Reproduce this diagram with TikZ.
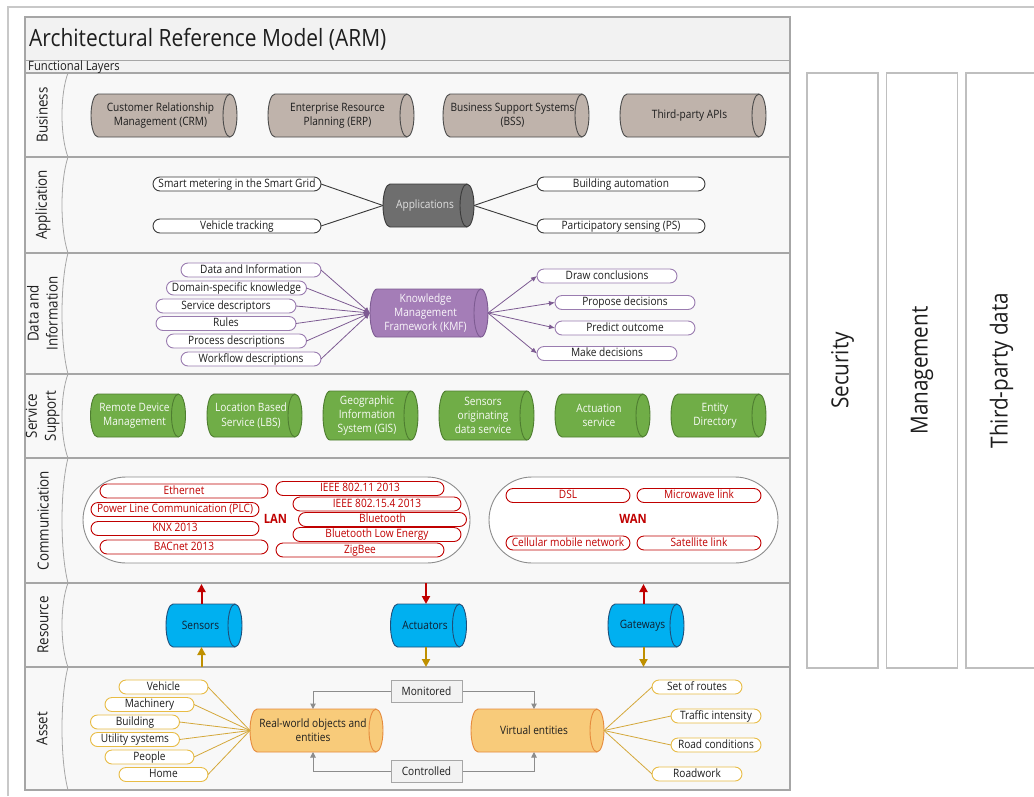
\documentclass[tikz,border=0pt]{standalone}
\usepackage{fontspec}
\setmainfont{Open Sans}[FakeStretch=0.88]
\usetikzlibrary{arrows.meta,calc}

\definecolor{txt}{HTML}{1E1E1E}
\definecolor{framegray}{HTML}{C8C8C8}
\definecolor{laygrid}{HTML}{A6A6A6}
\definecolor{armbg}{HTML}{F8F8F8}
\definecolor{titlebg}{HTML}{F2F2F2}
\definecolor{bizfill}{HTML}{BFB3AB}
\definecolor{bizline}{HTML}{4A4A4A}
\definecolor{appfill}{HTML}{6E6E6E}
\definecolor{appline}{HTML}{3A3A3A}
\definecolor{kmffill}{HTML}{A47DB7}
\definecolor{kmfline}{HTML}{7D5B92}
\definecolor{kmfpill}{HTML}{9A7CB0}
\definecolor{greenfill}{HTML}{70AD47}
\definecolor{greenline}{HTML}{4E7D30}
\definecolor{netred}{HTML}{C00000}
\definecolor{capgray}{HTML}{8C8C8C}
\definecolor{bluefill}{HTML}{00B0F0}
\definecolor{blueline}{HTML}{1F4E79}
\definecolor{bluetext}{HTML}{102030}
\definecolor{goldarrow}{HTML}{BF9000}
\definecolor{orfill}{HTML}{F8CB7A}
\definecolor{orline}{HTML}{E58A3C}
\definecolor{goldpill}{HTML}{E8BC45}
\definecolor{goldlink}{HTML}{D4A83A}
\definecolor{linkgray}{HTML}{8C8C8C}
\definecolor{boxfill}{HTML}{F2F2F2}
\definecolor{sideline}{HTML}{BFBFBF}

\newcommand\fs[2]{\fontsize{#1}{#2}\selectfont}

% horizontal cylinder: name, centre x, centre y (downwards), width, height, style, text
\newcommand\cyl[7]{%
  \node[cylbox, minimum width=#4pt, minimum height=#5pt] (#1) at (#2,-#3) {};
  \path[#6] ([xshift=7pt]#1.north west) -- ([xshift=-7pt]#1.north east)
    arc[start angle=90, end angle=-90, x radius=7pt, y radius=#5pt/2]
    -- ([xshift=7pt]#1.south west)
    arc[start angle=270, end angle=90, x radius=7pt, y radius=#5pt/2] -- cycle;
  \draw[#6, fill=none] ([xshift=-7pt]#1.north east)
    arc[start angle=90, end angle=270, x radius=7pt, y radius=#5pt/2];
  \node[#6-t] (#1-t) at ([xshift=-3.5pt]#1.center) {#7};
}

\begin{document}
\begin{tikzpicture}[x=1pt,y=1pt,
  cylbox/.style={rectangle, draw=none, fill=none, inner sep=0pt, outer sep=0pt},
  cyltext/.style={font=\fs{11.5}{13.8}, align=center, inner sep=0pt},
  cyl-biz/.style={fill=bizfill, draw=bizline, line width=0.9pt},
  cyl-biz-t/.style={cyltext, text=txt},
  cyl-app/.style={fill=appfill, draw=appline, line width=0.9pt},
  cyl-app-t/.style={cyltext, text=black!12},
  cyl-kmf/.style={fill=kmffill, draw=kmfline, line width=0.9pt},
  cyl-kmf-t/.style={cyltext, font=\fs{11.5}{14.3}, text=white!94!kmffill},
  cyl-grn/.style={fill=greenfill, draw=greenline, line width=0.9pt},
  cyl-grn-t/.style={cyltext, font=\fs{11.5}{14.2}, text=white!95!greenfill},
  cyl-blue/.style={fill=bluefill, draw=blueline, line width=0.9pt},
  cyl-blue-t/.style={cyltext, text=bluetext},
  cyl-or/.style={fill=orfill, draw=orline, line width=0.9pt},
  cyl-or-t/.style={cyltext, text=txt},
  pill/.style={rectangle, rounded corners=7pt, minimum height=14pt, inner sep=0pt,
    outer sep=0pt, fill=white, line width=0.9pt, font=\fs{11.5}{13},
    text height=8.3pt, text depth=2.3pt},
  pill-app/.style={pill, draw=appline, text=txt},
  pill-kmf/.style={pill, draw=kmfpill, text=txt},
  pill-net/.style={pill, draw=netred, text=netred},
  pill-gold/.style={pill, draw=goldpill, text=txt},
  capsule/.style={rectangle, draw=capgray, fill=white, rounded corners=43pt,
    line width=0.9pt, minimum height=86pt, inner sep=0pt},
  netlbl/.style={font=\fs{12.8}{14}\bfseries, text=netred, inner sep=0pt},
  laylbl/.style={rotate=90, font=\fs{15.2}{19}, align=center, text=txt, inner sep=0pt},
  sidebox/.style={rectangle, rotate=90, draw=sideline, fill=white, line width=1.3pt,
    minimum width=595pt, minimum height=71pt, inner sep=0pt, font=\fs{23.5}{26}, text=txt},
  monbox/.style={rectangle, draw=laygrid, fill=boxfill, line width=1pt, minimum width=71pt,
    minimum height=22pt, inner sep=0pt, font=\fs{11.5}{13}, text=txt},
  applink/.style={draw=appline, line width=0.9pt},
  kmflink/.style={draw=kmfline, line width=0.8pt, -{Latex[length=6pt,width=5pt]}},
  goldline/.style={draw=goldlink, line width=0.8pt},
  graylink/.style={draw=linkgray, line width=1pt, -{Triangle[length=5.5pt,width=5.5pt]}},
  redarr/.style={draw=netred, line width=2pt, -{Triangle[length=8pt,width=8pt]}},
  goldarr/.style={draw=goldarrow, line width=2pt, -{Triangle[length=8pt,width=8pt]}}
]
\useasboundingbox (0,0) rectangle (1034,-796);

% outer frame
\draw[framegray, line width=2pt] (8,-796) -- (8,-7) -- (1034,-7);

% model box, title band and layer rows
\fill[armbg] (25,-17) rectangle (790,-790);
\fill[titlebg] (25,-17) rectangle (790,-73);
\draw[laygrid, line width=1pt] (25,-60) -- (790,-60);
\foreach \y in {73,157,253,374,458,583,667}
  \draw[laygrid, line width=1.3pt] (25,-\y) -- (790,-\y);
\draw[laygrid, line width=1.3pt] (25,-17) rectangle (790,-790);
\foreach \a/\b in {73/157,157/253,253/374,374/458,458/583,583/667,667/790}
  \draw[laygrid, line width=0.8pt] (68,-\a)
    .. controls (60,{-(\a+0.25*(\b-\a))}) and (60,{-(\b-0.25*(\b-\a))}) .. (68,-\b);

\node[anchor=base west, font=\fs{23.8}{28}, text=txt, inner sep=0pt] (title) at (29,-46)
  {Architectural Reference Model (ARM)};
\node[anchor=base west, font=\fs{12.8}{14}, text=txt, inner sep=0pt] (fl) at (28,-70.5)
  {Functional Layers};

% layer names
\node[laylbl] (l-biz) at (42,-115) {Business};
\node[laylbl] (l-app) at (43,-205) {Application};
\node[laylbl] (l-dat) at (42.5,-313.5) {Data and\\Information};
\node[laylbl] (l-svc) at (42.5,-416) {Service\\Support};
\node[laylbl] (l-com) at (43,-520.5) {Communication};
\node[laylbl] (l-res) at (43,-625) {Resource};
\node[laylbl] (l-ast) at (42,-728.5) {Asset};

% cross-cutting columns
\node[sidebox] (sec) at (842.5,-370.5) {Security};
\node[sidebox] (mgmt) at (922,-370.5) {Management};
\node[sidebox] (tpd) at (1001.5,-370.5) {Third-party data};

% Business
\cyl{crm}{164}{115.5}{146}{43}{cyl-biz}{Customer Relationship\\Management (CRM)}
\cyl{erp}{341}{115.5}{146}{43}{cyl-biz}{Enterprise Resource\\Planning (ERP)}
\cyl{bss}{516}{115.5}{146}{43}{cyl-biz}{Business Support Systems\\(BSS)}
\cyl{tpa}{693}{115.5}{146}{43}{cyl-biz}{Third-party APIs}

% Application
\cyl{app}{428.5}{205.5}{91}{43}{cyl-app}{Applications}
\node[pill-app, minimum width=168pt] (sm) at (237,-184) {Smart metering in the Smart Grid};
\node[pill-app, minimum width=168pt] (vt) at (237,-226) {Vehicle tracking};
\node[pill-app, minimum width=168pt] (ba) at (621,-184) {Building automation};
\node[pill-app, minimum width=168pt] (ps) at (621,-226) {Participatory sensing (PS)};
\foreach \n in {sm,vt} \draw[applink] (\n.east) -- (app.west);
\foreach \n in {ba,ps} \draw[applink] (app.east) -- (\n.west);

% Data and Information
\cyl{kmf}{429}{313}{118}{48}{cyl-kmf}{Knowledge\\Management\\Framework (KMF)}
\node[pill-kmf, minimum width=140pt] (di) at (251,-270) {Data and Information};
\node[pill-kmf, minimum width=140pt] (dk) at (236.5,-288) {Domain-specific knowledge};
\node[pill-kmf, minimum width=140pt] (sd) at (226,-306) {Service descriptors};
\node[pill-kmf, minimum width=140pt] (ru) at (226,-323.5) {Rules};
\node[pill-kmf, minimum width=140pt] (pd) at (236.5,-341) {Process descriptions};
\node[pill-kmf, minimum width=140pt] (wd) at (251,-359) {Workflow descriptions};
\node[pill-kmf, minimum width=140pt] (dc) at (607,-276) {Draw conclusions};
\node[pill-kmf, minimum width=140pt] (pdn) at (625,-302.5) {Propose decisions};
\node[pill-kmf, minimum width=140pt] (po) at (625,-328) {Predict outcome};
\node[pill-kmf, minimum width=140pt] (md) at (607,-353.5) {Make decisions};
\foreach \n in {di,dk,sd,ru,pd,wd} \draw[kmflink] (\n.east) -- (kmf.west);
\foreach \n in {dc,pdn,po,md} \draw[kmflink] (kmf.east) -- (\n.west);

% Service Support
\cyl{rdm}{138}{415.5}{95}{43}{cyl-grn}{Remote Device\\Management}
\cyl{lbs}{254.5}{415.5}{95}{43}{cyl-grn}{Location Based\\Service (LBS)}
\cyl{gis}{370.5}{415.5}{95}{49}{cyl-grn}{Geographic\\Information\\System (GIS)}
\cyl{sods}{486.5}{415.5}{95}{49}{cyl-grn}{Sensors\\originating\\data service}
\cyl{acs}{602.5}{415.5}{95}{43}{cyl-grn}{Actuation\\service}
\cyl{edir}{718.5}{415.5}{95}{43}{cyl-grn}{Entity\\Directory}

% Communication
\node[capsule, minimum width=387pt] (lan) at (276.5,-520) {};
\node[capsule, minimum width=289pt] (wan) at (633.5,-520) {};
\node[pill-net, minimum width=168pt] (eth) at (184,-491) {Ethernet};
\node[pill-net, minimum width=168pt] (plc) at (175,-509.5) {Power Line Communication (PLC)};
\node[pill-net, minimum width=168pt] (knx) at (175,-528.5) {KNX 2013};
\node[pill-net, minimum width=168pt] (bac) at (184,-547) {BACnet 2013};
\node[pill-net, minimum width=168pt] (w11) at (360,-488.5) {IEEE 802.11 2013};
\node[pill-net, minimum width=168pt] (w154) at (377,-504) {IEEE 802.15.4 2013};
\node[pill-net, minimum width=168pt] (bt) at (382.5,-519.5) {Bluetooth};
\node[pill-net, minimum width=168pt] (ble) at (377,-534.5) {Bluetooth Low Energy};
\node[pill-net, minimum width=168pt] (zig) at (360,-550) {ZigBee};
\node[netlbl] (lan-t) at (275.5,-519) {LAN};
\node[pill-net, minimum width=124pt] (dsl) at (568,-495.5) {DSL};
\node[pill-net, minimum width=124pt] (mwl) at (699,-495.5) {Microwave link};
\node[pill-net, minimum width=124pt] (cmn) at (568,-543) {Cellular mobile network};
\node[pill-net, minimum width=124pt] (sat) at (699,-543) {Satellite link};
\node[netlbl] (wan-t) at (633,-519) {WAN};

% Resource
\cyl{sens}{204}{625.5}{76}{43}{cyl-blue}{Sensors}
\cyl{actu}{428.5}{625.5}{76}{43}{cyl-blue}{Actuators}
\cyl{gw}{646}{625.5}{76}{43}{cyl-blue}{Gateways}
\coordinate (sens-up) at (201.5,-584);
\coordinate (sens-in) at (201.5,-667);
\coordinate (actu-in) at (426,-583);
\coordinate (actu-out) at (426,-667);
\coordinate (gw-up) at (643.5,-584);
\coordinate (gw-out) at (643.5,-667);
\draw[redarr] ([xshift=-2.5pt]sens.north) -- (sens-up);
\draw[goldarr] (sens-in) -- ([xshift=-2.5pt]sens.south);
\draw[redarr] (actu-in) -- ([xshift=-2.5pt]actu.north);
\draw[goldarr] ([xshift=-2.5pt]actu.south) -- (actu-out);
\draw[redarr] ([xshift=-2.5pt]gw.north) -- (gw-up);
\draw[goldarr] ([xshift=-2.5pt]gw.south) -- (gw-out);

% Asset
\cyl{rw}{316.5}{730.5}{133}{43}{cyl-or}{Real-world objects and\\entities}
\cyl{ve}{537.5}{730.5}{133}{43}{cyl-or}{Virtual entities}
\node[monbox] (mon) at (426.5,-691) {Monitored};
\node[monbox] (con) at (426.5,-771.5) {Controlled};
\draw[graylink] (mon.west) -| ([xshift=-3.5pt]rw.north);
\draw[graylink] (mon.east) -| ([xshift=-3.5pt]ve.north);
\draw[graylink] (con.west) -| ([xshift=-3.5pt]rw.south);
\draw[graylink] (con.east) -| ([xshift=-3.5pt]ve.south);
\node[pill-gold, minimum width=89pt] (veh) at (163.5,-687) {Vehicle};
\node[pill-gold, minimum width=89pt] (mach) at (149.5,-704.5) {Machinery};
\node[pill-gold, minimum width=89pt] (bld) at (135,-722) {Building};
\node[pill-gold, minimum width=89pt] (util) at (135,-739.5) {Utility systems};
\node[pill-gold, minimum width=89pt] (peo) at (149.5,-757) {People};
\node[pill-gold, minimum width=89pt] (home) at (163.5,-774.5) {Home};
\node[pill-gold, minimum width=90pt] (sor) at (697,-687) {Set of routes};
\node[pill-gold, minimum width=90pt] (ti) at (716,-716) {Traffic intensity};
\node[pill-gold, minimum width=90pt] (rc) at (716,-745) {Road conditions};
\node[pill-gold, minimum width=90pt] (rwk) at (697,-774) {Roadwork};
\foreach \n in {veh,mach,bld,util,peo,home} \draw[goldline] (\n.east) -- (rw.west);
\foreach \n in {sor,ti,rc,rwk} \draw[goldline] (ve.east) -- (\n.west);
\end{tikzpicture}
\end{document}
